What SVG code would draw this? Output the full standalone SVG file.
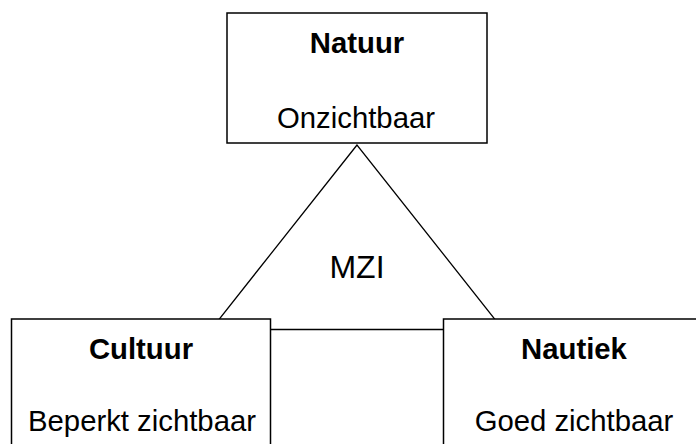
<svg xmlns="http://www.w3.org/2000/svg" width="696" height="444" viewBox="0 0 696 444">
<style>
.box{fill:#fff;stroke:#000;stroke-width:1.5}
.line{fill:none;stroke:#000;stroke-width:1.3}
text{font-family:"Liberation Sans",Arial,sans-serif;font-size:29.3px;fill:#000;text-anchor:middle}
.b{font-weight:bold}
</style>
<rect width="696" height="444" fill="#fff"/>
<g id="connectors">
<polygon class="line" points="357,145 211,329.5 503,329.5"/>
</g>
<g id="mzi">
<text x="357" y="278.3" style="font-size:32px">MZI</text>
</g>
<g id="natuur">
<rect class="box" x="227" y="13" width="260" height="130"/>
<text class="b" x="357" y="53">Natuur</text>
<text x="356" y="128.3">Onzichtbaar</text>
</g>
<g id="cultuur">
<rect class="box" x="11.5" y="319" width="259" height="140"/>
<text class="b" x="141" y="359.3">Cultuur</text>
<text x="142" y="430.7">Beperkt zichtbaar</text>
</g>
<g id="nautiek">
<rect class="box" x="443.5" y="319" width="259" height="140"/>
<text class="b" x="574" y="359.3">Nautiek</text>
<text x="574" y="430.7">Goed zichtbaar</text>
</g>
</svg>
